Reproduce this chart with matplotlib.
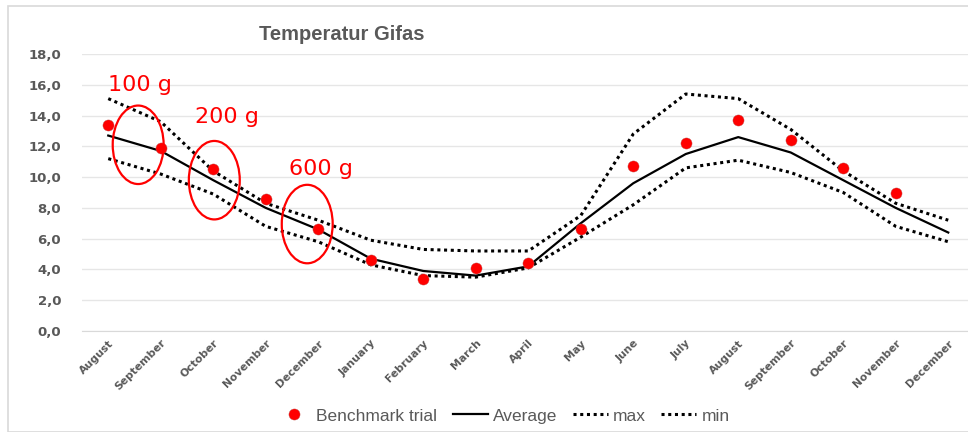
import matplotlib

matplotlib.use("Agg")
import matplotlib.pyplot as plt
from matplotlib.patches import Ellipse, Rectangle

MONTHS = [
    "August", "September", "October", "November", "December", "January",
    "February", "March", "April", "May", "June", "July", "August",
    "September", "October", "November", "December",
]
BENCHMARK = [13.4, 11.9, 10.5, 8.6, 6.6, 4.6, 3.4, 4.1, 4.4, 6.6, 10.7, 12.2, 13.7, 12.4, 10.6, 9.0]
AVERAGE = [12.7, 11.7, 9.8, 8.0, 6.6, 4.7, 3.9, 3.6, 4.2, 7.0, 9.6, 11.5, 12.6, 11.6, 9.8, 8.0, 6.4]
MAX_T = [15.1, 13.6, 10.4, 8.3, 7.2, 5.9, 5.3, 5.2, 5.2, 7.5, 12.8, 15.4, 15.1, 13.1, 10.4, 8.3, 7.2]
MIN_T = [11.2, 10.2, 8.9, 6.8, 5.8, 4.3, 3.6, 3.5, 4.1, 6.1, 8.2, 10.6, 11.1, 10.3, 9.0, 6.8, 5.8]
Y_TICKS = [0, 2, 4, 6, 8, 10, 12, 14, 16, 18]

# annotation groups: label, ellipse centre (x index, value)
GROUPS = [("100 g", 0.57, 12.1), ("200 g", 2.02, 9.8), ("600 g", 3.79, 6.95)]
LABEL_POS = [(0.0, 16.0), (1.65, 13.9), (3.45, 10.5)]

GRAY = "#595959"
RED = "#FF0000"

fig = plt.figure(figsize=(9.68, 4.32), dpi=100)
fig.patches.append(Rectangle((8 / 968, 0), 1.2, 1 - 6 / 432, transform=fig.transFigure,
                             fill=False, edgecolor="#D9D9D9", linewidth=1.2))
ax = fig.add_axes([82 / 968, 1 - 331 / 432, 892.5 / 968, 277 / 432])

x = list(range(len(MONTHS)))
ax.plot(x, MAX_T, color="black", linestyle=(0, (1, 1.2)), linewidth=2.2, label="max", zorder=2)
ax.plot(x, MIN_T, color="black", linestyle=(0, (1, 1.2)), linewidth=2.2, label="min", zorder=2)
ax.plot(x, AVERAGE, color="black", linewidth=1.6, label="Average", zorder=3)
ax.plot(x[:len(BENCHMARK)], BENCHMARK, linestyle="none", marker="o", markersize=8,
        color=RED, markeredgecolor="#C0504D", markeredgewidth=0.3, label="Benchmark trial", zorder=4)

for (label, cx, cy), (lx, ly) in zip(GROUPS, LABEL_POS):
    ax.add_patch(Ellipse((cx, cy), 0.97, 5.1, fill=False, edgecolor=RED, linewidth=1.6, zorder=5))
    ax.text(lx, ly, label, color=RED, fontsize=16, ha="left", va="center", zorder=6)

ax.set_xlim(-0.5, 16.5)
ax.set_ylim(0, 18)
ax.set_yticks(Y_TICKS)
ax.set_yticklabels([f"{v:.1f}".replace(".", ",") for v in Y_TICKS],
                   fontsize=9.5, fontweight="bold", color=GRAY)
ax.set_xticks(x)
ax.set_xticklabels(MONTHS, rotation=45, ha="right", rotation_mode="anchor",
                   fontsize=7.8, fontweight="bold", color=GRAY)
ax.tick_params(axis="y", length=0, pad=15)
ax.tick_params(axis="x", length=0, pad=5)
ax.grid(axis="y", color="#E6E6E6", linewidth=1)
ax.set_axisbelow(True)
for side in ["top", "right", "left"]:
    ax.spines[side].set_visible(False)
ax.spines["bottom"].set_color("#D9D9D9")

fig.text(342 / 968, 1 - 34 / 432, "Temperatur Gifas", ha="center", va="center",
         fontsize=14.5, fontweight="bold", color=GRAY, family="Liberation Sans")

handles, labels = ax.get_legend_handles_labels()
order = [3, 2, 0, 1]
fig.legend([handles[i] for i in order], [labels[i] for i in order], loc="center",
           bbox_to_anchor=(503 / 968, 1 - 416 / 432), ncol=4, frameon=False,
           prop={"family": "Liberation Sans", "size": 12.5}, labelcolor=GRAY,
           handlelength=2.0, handletextpad=0.3, columnspacing=0.9)

fig.savefig("out.png", dpi=100)
